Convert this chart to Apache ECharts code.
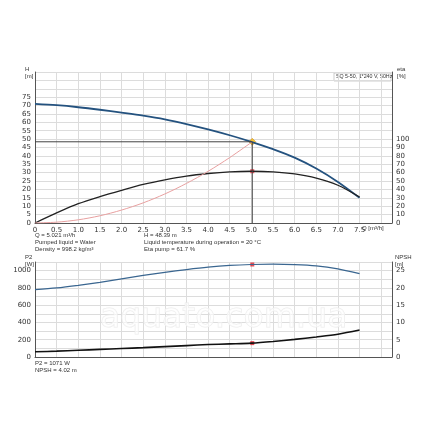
<!DOCTYPE html>
<html><head><meta charset="utf-8">
<script src="https://cdn.jsdelivr.net/npm/echarts@6/dist/echarts.min.js"></script>
<style>html,body{margin:0;background:#fff}#c{width:430px;height:430px}</style>
</head><body><div id="c"></div>
<script>
// pump head curve H [m]
var headQ = [0, 0.5, 1, 1.5, 2, 2.5, 3, 3.5, 4, 4.5, 5, 5.5, 6, 6.5, 7, 7.5];
var headH = [71, 70.2, 69, 67.5, 65.8, 64, 61.8, 59, 55.8, 52.3, 48.4, 44.0, 39.0, 32.5, 24.5, 15];
// efficiency eta [%]
var etaQ = [0, 0.5, 1, 1.5, 2, 2.5, 3, 3.5, 4, 4.5, 5, 5.5, 6, 6.5, 7, 7.5];
var eta = [0, 12, 23, 31.5, 39, 46, 51.5, 56, 59, 61, 61.7, 61, 58.5, 53.5, 45, 31];
// system curve
var sysQ = [0, 0.5, 1, 1.5, 2, 2.5, 3, 3.5, 4, 4.5, 5.021];
var sysH = [0, 0.5, 1.9, 4.3, 7.7, 12, 17.3, 23.6, 30.8, 39, 48.4];
// P2 [W]
var p2Q = [0, 0.5, 1, 1.5, 2, 2.5, 3, 3.5, 4, 4.5, 5, 5.5, 6, 6.5, 7, 7.5];
var p2 = [780, 800, 830, 865, 905, 945, 980, 1012, 1040, 1060, 1071, 1075, 1070, 1055, 1020, 965];
// NPSH [m]
var npshQ = [0, 0.5, 1, 1.5, 2, 2.5, 3, 3.5, 4, 4.5, 5, 5.5, 6, 6.5, 7, 7.5];
var npsh = [1.5, 1.7, 1.95, 2.2, 2.45, 2.7, 3.0, 3.3, 3.6, 3.8, 4.02, 4.5, 5.1, 5.8, 6.6, 7.8];
// duty point
var dutyQ = 5.021, dutyH = 48.4, dutyEta = 61.7, dutyP2 = 1071, dutyNpsh = 4.02;

function pts(xs, ys) { return xs.map(function (x, i) { return [x, ys[i]]; }); }

var gridLine = { show: true, lineStyle: { color: '#dcdcdc', width: 1 } };
var lbl = { fontSize: 7, color: '#333', fontFamily: 'DejaVu Sans' };
var axLine = { show: true, lineStyle: { color: '#555', width: 1 } };

var chart = echarts.init(document.getElementById('c'));
chart.setOption({
  animation: false,
  textStyle: { fontFamily: 'DejaVu Sans' },
  grid: [
    { left: 35, top: 72, width: 357, height: 151 },
    { left: 35, top: 262, width: 357, height: 95 }
  ],
  xAxis: [
    { gridIndex: 0, type: 'value', min: 0, max: 8.25, interval: 0.5, axisLine: axLine, axisTick: { show: false },
      splitLine: gridLine, axisLabel: Object.assign({ margin: 4, formatter: function (v) { return v === 0 ? '0' : (v > 7.6 ? '' : v.toFixed(1)); } }, lbl) },
    { gridIndex: 1, type: 'value', min: 0, max: 8.25, interval: 0.5, axisLine: axLine, axisTick: { show: false },
      splitLine: gridLine, axisLabel: { show: false } }
  ],
  yAxis: [
    { gridIndex: 0, type: 'value', min: 0, max: 90, interval: 5, axisLine: axLine, axisTick: { show: false },
      splitLine: gridLine, axisLabel: Object.assign({ margin: 4, formatter: function (v) { return v > 75 ? '' : v; } }, lbl) },
    { gridIndex: 0, type: 'value', min: 0, max: 180, interval: 10, position: 'right', axisLine: axLine, axisTick: { show: false },
      splitLine: { show: false }, axisLabel: Object.assign({ margin: 4, formatter: function (v) { return v > 100 ? '' : v; } }, lbl) },
    { gridIndex: 1, type: 'value', min: 0, max: 1100, interval: 100, axisLine: axLine, axisTick: { show: false },
      splitLine: gridLine, axisLabel: Object.assign({ margin: 4, formatter: function (v) { return v % 200 === 0 && v <= 1000 ? v : ''; } }, lbl) },
    { gridIndex: 1, type: 'value', min: 0, max: 27.5, interval: 2.5, position: 'right', axisLine: axLine, axisTick: { show: false },
      splitLine: { show: false }, axisLabel: Object.assign({ margin: 4, formatter: function (v) { return v % 5 === 0 && v <= 25 ? v : ''; } }, lbl) }
  ],
  series: [
    { type: 'line', xAxisIndex: 0, yAxisIndex: 0, data: pts(headQ, headH), smooth: 0.3, symbol: 'none',
      lineStyle: { color: '#24527f', width: 1.8 } },
    { type: 'line', xAxisIndex: 0, yAxisIndex: 1, data: pts(etaQ, eta), smooth: 0.3, symbol: 'none',
      lineStyle: { color: '#222', width: 1.3 } },
    { type: 'line', xAxisIndex: 0, yAxisIndex: 0, data: pts(sysQ, sysH), smooth: 0.3, symbol: 'none',
      lineStyle: { color: '#e8a0a0', width: 1 } },
    { type: 'line', xAxisIndex: 0, yAxisIndex: 0, data: [[0, dutyH], [dutyQ, dutyH], [dutyQ, 0]], symbol: 'none',
      lineStyle: { color: '#444', width: 1 } },
    { type: 'scatter', xAxisIndex: 0, yAxisIndex: 0, data: [[dutyQ, dutyH]], symbol: 'diamond', symbolSize: 7,
      itemStyle: { color: '#f5b800', borderColor: '#c07000', borderWidth: 0.5 } },
    { type: 'scatter', xAxisIndex: 0, yAxisIndex: 1, data: [[dutyQ, dutyEta]], symbol: 'rect', symbolSize: 4,
      itemStyle: { color: '#e0202a' } },
    { type: 'line', xAxisIndex: 1, yAxisIndex: 2, data: pts(p2Q, p2), smooth: 0.3, symbol: 'none',
      lineStyle: { color: '#3a6690', width: 1.2 } },
    { type: 'line', xAxisIndex: 1, yAxisIndex: 3, data: pts(npshQ, npsh), smooth: 0.3, symbol: 'none',
      lineStyle: { color: '#111', width: 1.6 } },
    { type: 'scatter', xAxisIndex: 1, yAxisIndex: 2, data: [[dutyQ, dutyP2]], symbol: 'rect', symbolSize: 4,
      itemStyle: { color: '#e0202a' } },
    { type: 'scatter', xAxisIndex: 1, yAxisIndex: 3, data: [[dutyQ, dutyNpsh]], symbol: 'rect', symbolSize: 4,
      itemStyle: { color: '#e0202a' } }
  ],
  graphic: [
    { type: 'text', left: 25, top: 66, style: { text: 'H\n[m]', fontSize: 6, fill: '#333', lineHeight: 7 } },
    { type: 'text', left: 397, top: 66, style: { text: 'eta\n[%]', fontSize: 6, fill: '#333', lineHeight: 7 } },
    { type: 'rect', shape: { x: 334, y: 73, width: 57, height: 8 }, style: { fill: '#fff', stroke: '#999', lineWidth: 0.5 } },
    { type: 'text', x: 336, y: 74.5, style: { text: 'SQ 5-50, 1*240 V, 50Hz', fontSize: 5.3, fill: '#333' } },
    { type: 'text', x: 362, y: 225, style: { text: 'Q [m³/h]', fontSize: 6, fill: '#333' } },
    { type: 'text', x: 35, y: 232, style: { text: 'Q = 5.021 m³/h\nPumped liquid = Water\nDensity = 998.2 kg/m³', fontSize: 6, fill: '#333', lineHeight: 7 } },
    { type: 'text', x: 144, y: 232, style: { text: 'H = 48.39 m\nLiquid temperature during operation = 20 °C\nEta pump = 61.7 %', fontSize: 6, fill: '#333', lineHeight: 7 } },
    { type: 'text', left: 25, top: 254, style: { text: 'P2\n[W]', fontSize: 6, fill: '#333', lineHeight: 7 } },
    { type: 'text', left: 395, top: 254, style: { text: 'NPSH\n[m]', fontSize: 6, fill: '#333', lineHeight: 7 } },
    { type: 'text', x: 35, y: 360, style: { text: 'P2 = 1071 W\nNPSH = 4.02 m', fontSize: 6, fill: '#333', lineHeight: 7 } },
    { type: 'text', x: 100, y: 302, z: 10, style: { text: 'aquato.com.ua', fontSize: 33, fill: 'rgba(255,255,255,0.6)', stroke: '#ebebeb', lineWidth: 1, fontFamily: 'DejaVu Sans' } }
  ]
});
</script></body></html>
